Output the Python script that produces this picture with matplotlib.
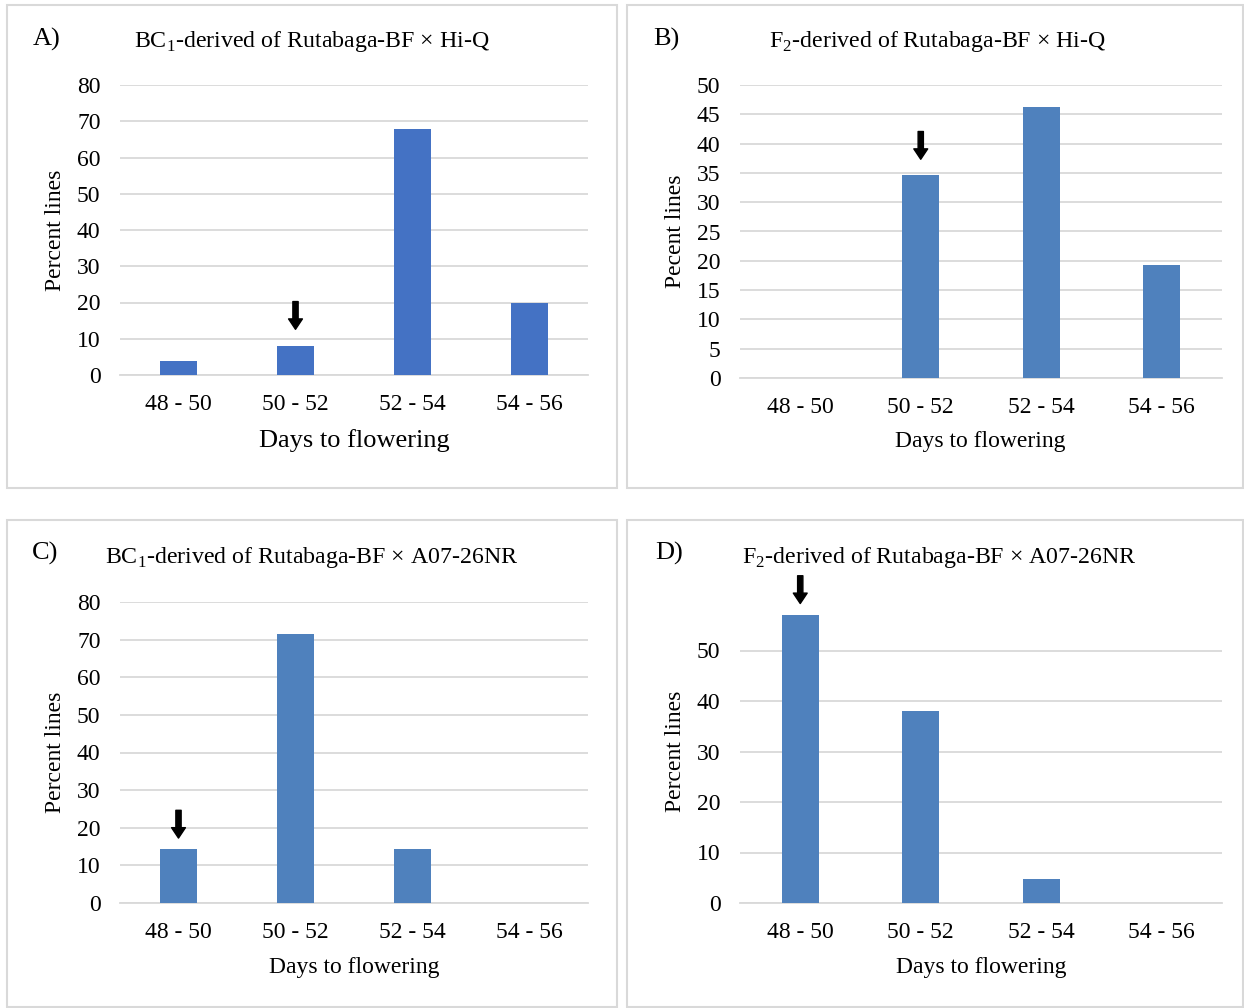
import numpy as np
import matplotlib
matplotlib.use('Agg')
import matplotlib.pyplot as plt
from matplotlib.patches import Rectangle

plt.rcParams['font.family'] = ['Liberation Serif', 'DejaVu Serif']
plt.rcParams['mathtext.fontset'] = 'custom'
plt.rcParams['mathtext.rm'] = 'Liberation Serif'

categories = ['48 - 50', '50 - 52', '52 - 54', '54 - 56']

vals_a = [4, 8, 68, 20]
vals_b = [0, 34.6, 46.2, 19.2]
vals_c = [14.3, 71.4, 14.3, 0]
vals_d = [57.1, 38.1, 4.8, 0]

titles = [r'BC$_{\mathregular{1}}$-derived of Rutabaga-BF × Hi-Q',
          r'F$_{\mathregular{2}}$-derived of Rutabaga-BF × Hi-Q',
          r'BC$_{\mathregular{1}}$-derived of Rutabaga-BF × A07-26NR',
          r'F$_{\mathregular{2}}$-derived of Rutabaga-BF × A07-26NR']
letters = ['A)', 'B)', 'C)', 'D)']
ylabels = ['Percent lines', 'Pecent lines', 'Percent lines', 'Percent lines']
arrow_at = [1, 1, 0, 0]   # bar index marked with an arrow

W, H = 1244, 1008
fig = plt.figure(figsize=(W/100, H/100), dpi=100)

def px(x, y):
    return x / W, 1 - y / H

# panel frames (pixels: x0, y0, x1, y1)
frames = [(7, 5, 617, 488), (627, 5, 1243, 488), (7, 520, 617, 1007), (627, 520, 1243, 1007)]
for x0, y0, x1, y1 in frames:
    fx0, fy1 = px(x0, y0)
    fx1, fy0 = px(x1, y1)
    fig.add_artist(Rectangle((fx0, fy0), fx1 - fx0, fy1 - fy0, transform=fig.transFigure,
                             fill=False, edgecolor='#D9D9D9', linewidth=1.5))

# axes in pixels: left, right, top, bottom
boxes = [(120, 588, 85, 375), (740, 1222, 85, 378), (120, 588, 602, 903), (740, 1222, 600, 903)]
ylims = [(80, 10), (50, 5), (80, 10), (60, 10)]
yticks_max = [80, 50, 80, 50]
colors = ['#4472C4', '#4F81BD', '#4F81BD', '#4F81BD']
data = [vals_a, vals_b, vals_c, vals_d]
gaps = [12, 11.5, 8, 8]

title_pos = [(312, 42), (938, 42), (312, 557), (939, 557)]
letter_pos = [(33, 39), (653, 39), (32, 553), (655, 553)]
xlab_pos = [(354, 441), (980, 442), (354, 967), (981, 967)]
xlab_size = [19, 17, 17, 17]
ylab_x = [66, 686, 66, 686]

for k in range(4):
    l, r, t, b = boxes[k]
    ax = fig.add_axes([l / W, 1 - b / H, (r - l) / W, (b - t) / H])
    x = np.arange(4)
    ax.bar(x, data[k], width=0.31, color=colors[k], zorder=3)
    ax.set_xlim(-0.5, 3.5)
    ax.set_ylim(0, ylims[k][0])
    ax.set_yticks(np.arange(0, yticks_max[k] + 1, ylims[k][1]))
    ax.set_xticks(x)
    ax.set_xticklabels(categories)
    ax.grid(axis='y', color='#D9D9D9', linewidth=1.3, zorder=0)
    for s in ['top', 'right', 'left']:
        ax.spines[s].set_visible(False)
    ax.spines['bottom'].set_color('#D9D9D9')
    ax.spines['bottom'].set_linewidth(1.3)
    ax.tick_params(length=0, labelsize=17)
    ax.tick_params(axis='y', pad=14)
    ax.tick_params(axis='x', pad=14)
    ax.set_ylabel(ylabels[k], fontsize=17)
    ax.yaxis.set_label_coords((ylab_x[k] - l) / (r - l), 0.5)

    i = arrow_at[k]
    ax.annotate('', xy=(i, data[k][i]), xycoords='data',
                xytext=(0, gaps[k] + 20), textcoords='offset points',
                arrowprops=dict(arrowstyle='simple,head_width=1.0,head_length=0.75,tail_width=0.38',
                                color='black', shrinkA=0, shrinkB=gaps[k], mutation_scale=10))

    tx, ty = px(*title_pos[k])
    fig.text(tx, ty, titles[k], ha='center', va='center', fontsize=17.2)
    lx, ly = px(*letter_pos[k])
    fig.text(lx, ly, letters[k], ha='left', va='center', fontsize=19)
    xx, xy = px(*xlab_pos[k])
    fig.text(xx, xy, 'Days to flowering', ha='center', va='center', fontsize=xlab_size[k])

fig.savefig('out.png', dpi=100, facecolor='white')
